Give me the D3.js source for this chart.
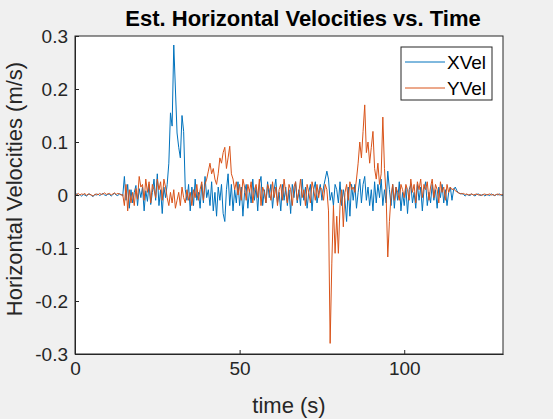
<!DOCTYPE html>
<html><head><meta charset="utf-8">
<script src="https://cdn.jsdelivr.net/npm/d3@7"></script>
<style>body{margin:0;background:#f0f0f0;}svg{display:block;font-family:"Liberation Sans",Arial,sans-serif;}</style>
</head><body><svg id="c" width="553" height="419"></svg>
<script>
const dt = 0.5;
const xTicks = [0, 50, 100];
const yTicks = [-0.3, -0.2, -0.1, 0, 0.1, 0.2, 0.3];
const yTickLabels = ["-0.3","-0.2","-0.1","0","0.1","0.2","0.3"];
const seriesNames = ["XVel", "YVel"];
const xVel = [
0,0.002,-0.001,0.001,-0.002,0.001,0,-0.002,0.001,0.002,
-0.001,-0.003,0.001,0,0.002,-0.001,0.001,0.003,0,-0.001,
0.002,0.001,-0.002,0.001,0.003,0,-0.001,0.002,0.001,-0.002,
0.035,-0.01,0.02,-0.025,0.01,-0.015,0.005,0.018,-0.02,0.012,
-0.005,0.015,-0.03,0.008,-0.012,0.02,-0.018,0.005,0.03,-0.01,
0.04,-0.02,0.01,-0.035,0.015,-0.005,0.02,0.06,0.155,0.13,
0.283,0.2,0.117,0.09,0.07,0.15,0.12,0.01,-0.01,0.02,
-0.03,0.015,-0.02,0.03,-0.01,0.005,-0.025,0.02,-0.015,0.035,
-0.005,0.01,-0.02,0.025,-0.03,0.005,-0.04,0.015,-0.01,0.02,
-0.035,-0.05,0.01,0.04,-0.02,0.02,-0.03,0.01,-0.015,0.025,
-0.02,0.015,-0.04,0.005,0.02,-0.025,0.01,-0.015,0.03,-0.01,
0.015,-0.03,0.02,0.035,-0.02,0.01,-0.015,0.025,-0.005,0.02,
-0.025,0.01,0.03,-0.015,0.005,-0.03,0.02,-0.01,0.015,-0.02,
0.01,-0.035,0.02,-0.005,0.025,-0.015,0.01,-0.02,0.03,-0.01,
0.015,-0.025,0.005,0.02,-0.03,0.01,0.025,-0.015,0.005,0.02,
-0.01,0.015,0.03,0.045,0.03,-0.01,0.005,-0.02,0.02,0.01,
-0.015,0.025,-0.02,0.01,-0.01,-0.05,0.015,-0.04,0.02,-0.01,
0.02,-0.025,0.005,0.03,-0.015,0.02,0.035,-0.01,0.015,-0.02,
0.01,-0.03,0.025,-0.015,0.02,-0.005,0.03,-0.02,0.01,-0.015,
0.045,0.01,-0.02,0.02,-0.025,0.015,-0.01,0.025,-0.03,0.005,
-0.02,0.015,-0.035,0.01,0.02,-0.015,0.005,-0.025,0.02,-0.01,
0.015,-0.03,0.01,0.025,-0.02,0.005,-0.015,0.02,-0.01,0.01,
-0.025,0.015,-0.005,0.02,-0.015,0.01,-0.02,0.005,0.015,-0.01,
0.01,0.015,0.008,0.004,0.002,0.003,0.001,-0.002,0.001,0,
-0.001,0.002,0,-0.002,0.001,0.002,-0.001,0,0.001,-0.002,
0.001,0,-0.001,0.002,0,-0.001,0.001,0,0.002,-0.001,0];
const yVel = [
0.002,0.001,0.003,0,0.002,0.001,0.003,-0.001,0.002,0.001,
0,-0.002,0.001,0.002,0,0.003,0.001,0.002,0.004,0.001,
0.002,0.003,0,0.002,0.004,0.001,0.003,0.002,0,0.001,
-0.02,0.02,-0.03,0.01,-0.015,0.005,-0.02,0.012,-0.008,0.035,
0.015,0.02,-0.01,0.03,0.005,0.025,-0.015,0.02,0.01,-0.005,
0.03,0.01,0.025,-0.01,0.03,0.015,-0.005,-0.02,0.005,-0.015,
0.01,-0.025,-0.01,0.005,-0.02,0.015,-0.005,-0.015,0.01,-0.01,
0.005,-0.02,0.01,-0.005,0.02,-0.01,0.01,0.025,-0.01,0.02,
0.03,0.045,0.06,0.04,0.05,0.03,0.02,0.04,0.07,0.06,
0.08,0.09,0.05,0.07,0.092,0.04,0.03,0.01,0.025,0,
0.02,-0.01,0.03,0.015,-0.01,0.02,0.005,0.025,-0.015,0.01,
0.02,-0.005,0.03,-0.02,0.015,0.005,-0.015,0.02,0.01,-0.01,
0.025,-0.005,0.015,-0.02,0.01,0.02,-0.01,0.03,0.005,-0.015,
0.02,0.01,-0.02,0.015,0.025,-0.01,0.005,0.03,-0.005,0.01,
-0.02,0.02,0.005,-0.015,0.025,0.01,-0.01,0.02,-0.005,0.015,
0.01,-0.01,0.02,0.01,-0.03,-0.28,-0.13,-0.02,-0.11,-0.04,
-0.11,-0.02,0.01,-0.06,0.005,0.02,-0.01,0.025,0.01,0.015,
0.005,0.03,0.06,0.1,0.07,0.12,0.17,0.08,0.1,0.06,
0.09,0.12,0.05,0.03,0.06,0.02,0.04,0.147,0.05,0.0,
-0.117,-0.05,0.0,0.02,-0.01,0.015,0.005,-0.01,0.02,0.01,
-0.005,0.02,0.01,-0.01,0.03,0.005,0.02,-0.015,0.025,0.01,
0.03,-0.005,0.02,0.01,0.025,-0.01,0.015,0.03,-0.005,0.02,
0.01,-0.015,0.025,0.005,0.015,-0.01,0.02,0.005,0.015,0.01,
0.012,0.008,0.006,0.004,0.003,0.002,0.003,0.001,0.002,0,
0.001,0.002,0,0.001,0.002,0,0.001,-0.001,0.001,0.002,
0,0.001,0.002,0,0.001,-0.001,0.001,0.002,0,0.001,0];
const colors = ["#0072BD", "#D95319"];

const svg = d3.select("#c");
const L = 75, R = 503, T = 36, B = 354;
const x = d3.scaleLinear().domain([0, 130]).range([L, R]);
const y = d3.scaleLinear().domain([-0.3, 0.3]).range([B, T]);
svg.append("rect").attr("x", L).attr("y", T).attr("width", R - L).attr("height", B - T).attr("fill", "#fff");

const clip = svg.append("clipPath").attr("id", "cp").append("rect").attr("x", L).attr("y", T).attr("width", R - L).attr("height", B - T);
const line = d3.line().x((d, i) => x(i * dt)).y(d => y(d));
[xVel, yVel].forEach((s, k) => {
  svg.append("path").datum(s).attr("d", line).attr("fill", "none")
    .attr("stroke", colors[k]).attr("stroke-width", 1).attr("clip-path", "url(#cp)");
});

const ax = svg.append("g").attr("transform", `translate(0,${B})`)
  .call(d3.axisBottom(x).tickValues(xTicks).tickSizeInner(-4).tickSizeOuter(0).tickPadding(8));
const ay = svg.append("g").attr("transform", `translate(${L},0)`)
  .call(d3.axisLeft(y).tickValues(yTicks).tickFormat((d, i) => yTickLabels[i]).tickSizeInner(-4).tickSizeOuter(0).tickPadding(7));
[ax, ay].forEach(g => {
  g.selectAll("text").attr("font-size", 19).attr("fill", "#262626").attr("font-family", "Liberation Sans, Arial, sans-serif");
  g.selectAll("line,path").attr("stroke", "#262626");
});
svg.append("rect").attr("x", L).attr("y", T).attr("width", R - L).attr("height", B - T)
  .attr("fill", "none").attr("stroke", "#262626").attr("stroke-width", 1);

svg.append("text").attr("x", (L + R) / 2 + 14).attr("y", 26).attr("text-anchor", "middle")
  .attr("font-size", 22).attr("font-weight", "bold").attr("fill", "#000").text("Est. Horizontal Velocities vs. Time");
svg.append("text").attr("x", (L + R) / 2).attr("y", 413).attr("text-anchor", "middle")
  .attr("font-size", 22).attr("fill", "#262626").text("time (s)");
svg.append("text").attr("transform", `translate(22,${(T + B) / 2 - 6}) rotate(-90)`).attr("text-anchor", "middle")
  .attr("font-size", 22).attr("fill", "#262626").text("Horizontal Velocities (m/s)");

const lg = svg.append("g");
lg.append("rect").attr("x", 401).attr("y", 47).attr("width", 91).attr("height", 53).attr("fill", "#fff").attr("stroke", "#262626");
seriesNames.forEach((n, i) => {
  const yy = 62 + i * 26;
  lg.append("line").attr("x1", 405).attr("x2", 445).attr("y1", yy).attr("y2", yy).attr("stroke", colors[i]);
  lg.append("text").attr("x", 447).attr("y", yy + 7).attr("font-size", 19).attr("fill", "#000").text(n);
});
</script></body></html>
